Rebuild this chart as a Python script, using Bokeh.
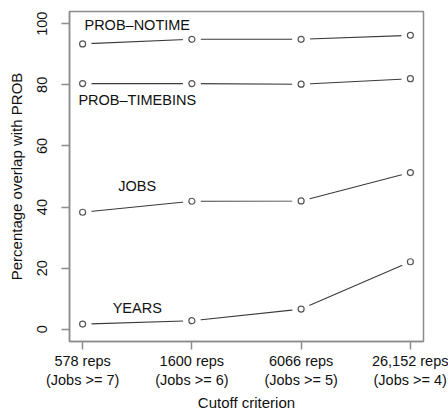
from bokeh.plotting import figure
from bokeh.models import FixedTicker, Range1d, ColumnDataSource
from bokeh.core.properties import value
from bokeh.embed import file_html
from bokeh.resources import INLINE

# Cutoff criteria along the x axis
cutoff_pos = [1, 2, 3, 4]
cutoff_labels = ["578 reps\n(Jobs >= 7)", "1600 reps\n(Jobs >= 6)",
                 "6066 reps\n(Jobs >= 5)", "26,152 reps\n(Jobs >= 4)"]

# Percentage overlap with PROB for each method
prob_notime = [93.4, 94.9, 94.9, 96.2]
prob_timebins = [80.4, 80.4, 80.2, 82.0]
jobs = [38.3, 41.9, 42.0, 51.3]
years = [1.7, 2.8, 6.6, 22.1]

series_names = ["PROB\u2013NOTIME", "PROB\u2013TIMEBINS", "JOBS", "YEARS"]
series_values = [prob_notime, prob_timebins, jobs, years]
# label anchor (x, y) in data units, next to each series
label_x = [1.5, 1.5, 1.5, 1.5]
label_y = [99.6, 74.9, 46.8, 7.0]

FONT = "Liberation Sans"
TEXT = "#111111"
GREY = "#8c8c8c"

p = figure(width=448, height=412, frame_width=354, frame_height=330,
           x_range=Range1d(0.88, 4.12), y_range=Range1d(-4, 104),
           output_backend="svg", toolbar_location=None,
           min_border_left=69, min_border_right=25,
           min_border_top=11, min_border_bottom=71)

p.background_fill_color = "white"
p.border_fill_color = "white"
p.outline_line_color = GREY
p.outline_line_width = 1.5
p.grid.visible = False

for vals in series_values:
    src = ColumnDataSource(dict(x=cutoff_pos, y=vals))
    p.line("x", "y", source=src, line_color="#3a3a3a", line_width=1.1)
    # white discs open a gap in the line around each point
    p.scatter("x", "y", source=src, size=18, fill_color="white",
              line_color=None)
    p.scatter("x", "y", source=src, size=6, fill_color="white",
              line_color="#555555", line_width=1.2)

p.text(x=label_x, y=label_y, text=series_names, text_align="center",
       text_baseline="middle", text_font=value(FONT),
       text_font_size="14.5px", text_color=TEXT)

# x axis
p.xaxis.ticker = FixedTicker(ticks=cutoff_pos)
p.xaxis.major_label_overrides = {k: v for k, v in zip(cutoff_pos, cutoff_labels)}
p.xaxis.axis_label = "Cutoff criterion"
p.xaxis.major_label_standoff = 3
p.xaxis.axis_label_standoff = 3

# y axis
p.yaxis.ticker = FixedTicker(ticks=[0, 20, 40, 60, 80, 100])
p.yaxis.axis_label = "Percentage overlap with PROB"
p.yaxis.major_label_orientation = "vertical"
p.yaxis.major_label_standoff = 14
p.yaxis.axis_label_standoff = 10

for ax in (p.xaxis, p.yaxis):
    ax.axis_line_color = GREY
    ax.axis_line_width = 1.5
    ax.major_tick_line_color = GREY
    ax.major_tick_line_width = 1.5
    ax.major_tick_in = 0
    ax.major_tick_out = 8
    ax.minor_tick_line_color = None
    ax.major_label_text_font = FONT
    ax.major_label_text_font_size = "14.5px"
    ax.major_label_text_color = TEXT
    ax.axis_label_text_font = FONT
    ax.axis_label_text_font_size = "15px"
    ax.axis_label_text_font_style = "normal"
    ax.axis_label_text_color = TEXT

open("out.html", "w").write(file_html(p, INLINE))
